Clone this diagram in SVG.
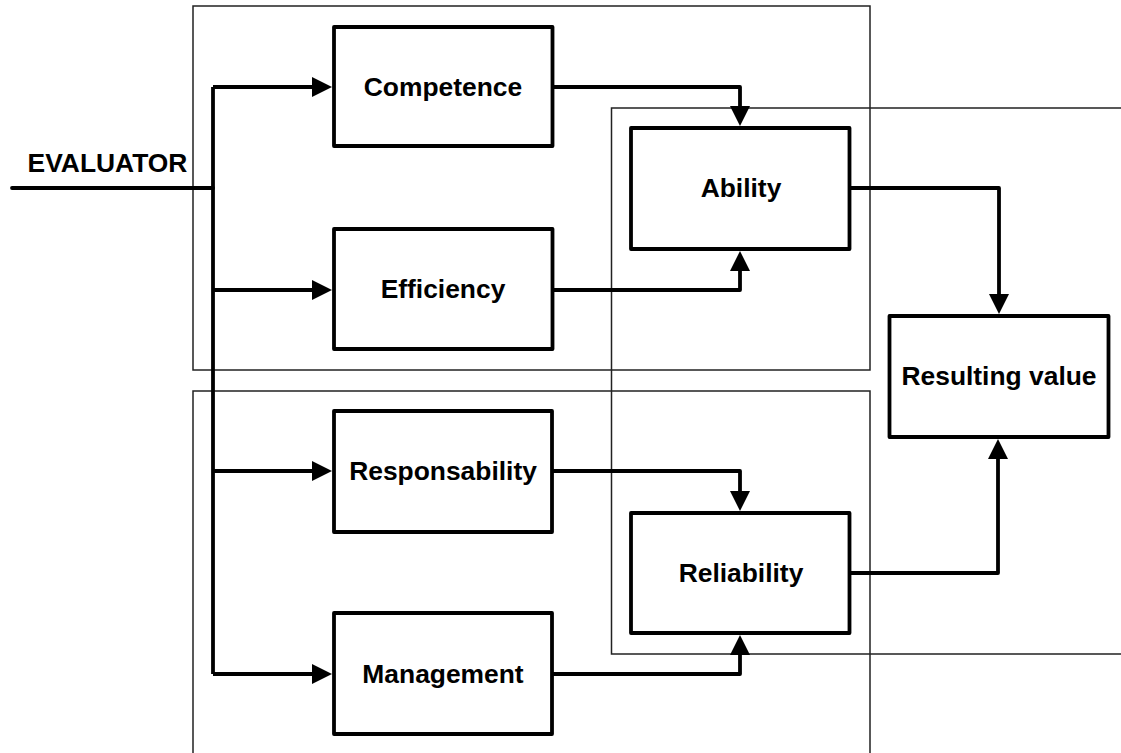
<svg xmlns="http://www.w3.org/2000/svg" width="1121" height="753" viewBox="0 0 1121 753">
  <style>
    .frame { fill: none; stroke: #222; stroke-width: 1.5; }
    .node rect { fill: #fff; stroke: #000; stroke-width: 3.8; stroke-linejoin: round; }
    .node text, .label { font-family: "Liberation Sans", Arial, sans-serif; font-weight: bold; font-size: 26.4px; fill: #000; text-anchor: middle; }
    .wire { fill: none; stroke: #000; stroke-width: 3.8; stroke-linejoin: round; }
  </style>
  <defs>
    <marker id="arrow" markerUnits="userSpaceOnUse" viewBox="0 0 20 20" refX="0" refY="10" markerWidth="20" markerHeight="20" orient="auto">
      <path d="M0,0 L20,10 L0,20 Z" fill="#000"/>
    </marker>
  </defs>

  <!-- grouping frames -->
  <g id="frames">
    <rect class="frame" x="193" y="6" width="677" height="364"/>
    <path class="frame" d="M193,760 V391 H870 V760"/>
    <path class="frame" d="M1130,108 H611.5 V654 H1130"/>
  </g>

  <!-- connectors -->
  <g id="connectors">
    <path class="wire" d="M12,188 H213" stroke-linecap="round"/>
    <path class="wire" d="M213,87 V674"/>
    <path class="wire" d="M213,87 H312" marker-end="url(#arrow)"/>
    <path class="wire" d="M213,290 H312" marker-end="url(#arrow)"/>
    <path class="wire" d="M213,471 H312" marker-end="url(#arrow)"/>
    <path class="wire" d="M213,674 H312" marker-end="url(#arrow)"/>
    <path class="wire" d="M553,87 H740 V106" marker-end="url(#arrow)"/>
    <path class="wire" d="M553,290 H740 V271" marker-end="url(#arrow)"/>
    <path class="wire" d="M850,188 H999 V294" marker-end="url(#arrow)"/>
    <path class="wire" d="M552,471 H740 V491" marker-end="url(#arrow)"/>
    <path class="wire" d="M552,674 H740 V655" marker-end="url(#arrow)"/>
    <path class="wire" d="M850,573 H998 V459" marker-end="url(#arrow)"/>
  </g>

  <text class="label" x="107.5" y="172">EVALUATOR</text>

  <g id="competence" class="node">
    <rect x="334" y="27" width="218.5" height="119"/>
    <text x="443" y="95.5">Competence</text>
  </g>
  <g id="efficiency" class="node">
    <rect x="334" y="229" width="218.5" height="120"/>
    <text x="443" y="298">Efficiency</text>
  </g>
  <g id="responsability" class="node">
    <rect x="334" y="411" width="218" height="121"/>
    <text x="443" y="480">Responsability</text>
  </g>
  <g id="management" class="node">
    <rect x="334" y="613" width="218" height="121"/>
    <text x="443" y="683">Management</text>
  </g>
  <g id="ability" class="node">
    <rect x="631" y="128" width="218.5" height="121"/>
    <text x="741" y="197">Ability</text>
  </g>
  <g id="reliability" class="node">
    <rect x="631" y="513" width="218.5" height="120"/>
    <text x="741" y="582">Reliability</text>
  </g>
  <g id="resulting-value" class="node">
    <rect x="889.5" y="316" width="219" height="121"/>
    <text x="999" y="385">Resulting value</text>
  </g>
</svg>
